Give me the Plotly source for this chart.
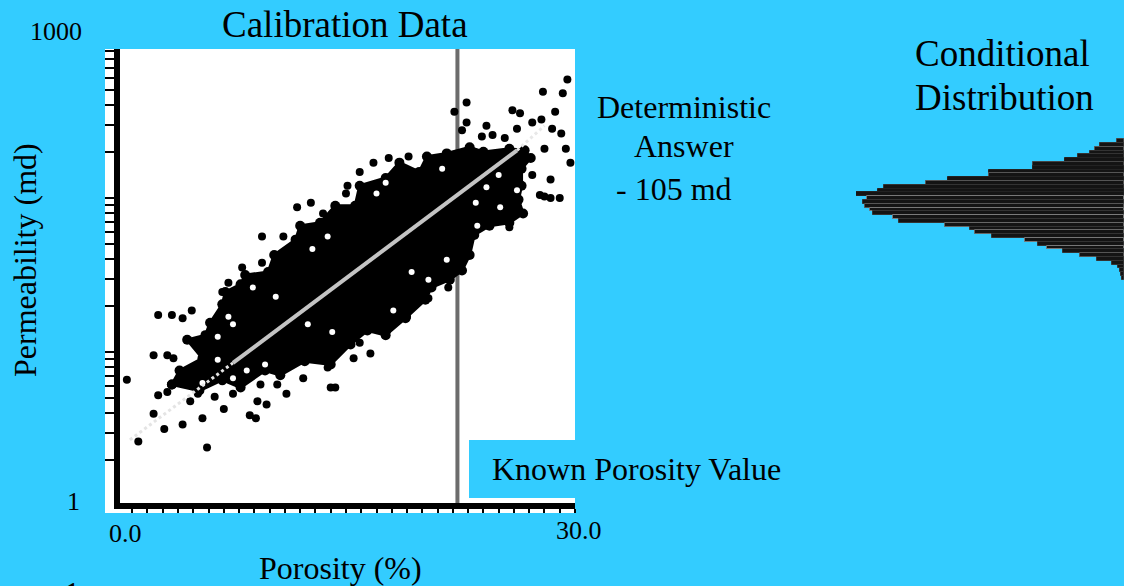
import plotly.graph_objects as go

# ---- Data ----
# Cloud outline of dense calibration data: porosity %, log10(permeability md)
cloud_porosity = [3.6,4.1,5.6,4.6,5.8,6.1,6.9,7.1,8.1,8.4,9.9,10.3,11.7,12.0,13.3,14.3,15.6,15.9,17.6,18.5,19.8,20.3,21.6,23.1,24.0,25.7,26.7,27.1,26.5,26.5,26.3,26.6,25.7,24.4,23.4,23.1,22.6,21.8,20.6,20.2,18.9,17.6,16.4,15.3,14.0,12.3,10.7,9.7,8.1,6.9,5.4,3.6]
cloud_logk = [0.79,0.88,0.96,1.08,1.11,1.19,1.31,1.39,1.44,1.50,1.52,1.63,1.73,1.82,1.84,1.95,1.95,2.08,2.13,2.23,2.17,2.27,2.29,2.33,2.30,2.32,2.31,2.26,2.19,2.08,1.99,1.90,1.84,1.82,1.76,1.63,1.53,1.47,1.42,1.34,1.22,1.11,1.14,1.05,0.92,0.94,0.85,0.88,0.77,0.82,0.75,0.79]

# Separate calibration samples outside the dense cloud
point_porosity = [29.5,27.9,29.2,22.9,22.1,25.9,26.4,28.7,22.9,22.6,27.2,27.8,24.2,26.2,29.1,28.5,23.9,24.6,25.4,28.0,29.4,29.7,28.4,27.2,27.7,29.0,28.4,28.0,25.7,16.8,17.8,19.1,15.9,15.1,15.0,11.8,12.7,13.5,9.5,10.9,9.5,8.2,7.3,6.9,2.7,3.6,4.3,4.9,2.4,3.3,3.7,0.65,2.7,3.3,2.4,3.1,4.3,5.6,1.4,5.9,7.0,8.7,9.1,9.2,9.8,6.4,4.8,5.3,7.6,6.9,9.4,11.1,10.5,12.2,14.3,14.0,15.5,16.6,15.9,13.8,21.7,17.7,20.4,19.0]
point_logk = [2.77,2.69,2.68,2.62,2.56,2.57,2.55,2.56,2.49,2.44,2.49,2.51,2.47,2.45,2.42,2.45,2.40,2.41,2.39,2.32,2.32,2.23,2.12,2.15,2.02,2.00,2.00,2.01,1.81,2.23,2.26,2.27,2.17,2.08,2.03,1.94,1.97,1.90,1.75,1.75,1.58,1.55,1.45,1.39,1.24,1.24,1.22,1.27,0.98,0.98,0.96,0.82,0.72,0.74,0.60,0.50,0.53,0.57,0.42,0.38,0.63,0.59,0.57,0.68,0.66,0.71,0.68,0.73,0.73,0.81,0.79,0.73,0.79,0.83,0.77,0.77,0.96,0.99,1.06,0.90,1.42,1.14,1.35,1.23]

# Small empty gaps inside the dense cloud
gap_porosity = [17.0,21.3,13.8,12.8,23.6,21.6,26.2,25.1,17.6,6.6,7.6,6.6,7.6,9.7,8.5,14.1,18.1,7.3,8.9,5.6,25.0,23.5,24.2,20.4,19.3,12.5,10.4]
gap_logk = [2.03,2.19,1.75,1.67,1.82,1.60,2.05,1.94,2.10,1.10,1.18,0.95,0.83,0.92,0.88,1.13,1.27,1.23,1.42,0.80,2.15,1.97,2.07,1.47,1.52,1.18,1.36]

# Regression line
trend_porosity = [7.6,26.2]
trend_logk = [0.93,2.31]
trend_low_porosity = [0.85,7.6]
trend_low_logk = [0.43,0.93]
trend_high_porosity = [26.2,28.0]
trend_high_logk = [2.31,2.47]

known_porosity = 22.3

# Conditional distribution histogram
bin_logk = [2.370,2.345,2.321,2.296,2.271,2.247,2.222,2.197,2.173,2.148,2.123,2.099,2.074,2.049,2.025,2.000,1.975,1.951,1.926,1.901,1.877,1.852,1.827,1.803,1.778,1.753,1.729,1.704,1.679,1.655,1.630,1.605,1.581,1.556,1.532,1.507,1.482]
bin_freq = [7,24,29,34,46,59,91,91,135,135,176,198,240,246,268,257,261,259,254,251,231,225,179,154,149,132,99,86,77,61,44,27,12,6,4,3,2]
bin_edge = ["#444444","#333333","#555555","#333333","#333333","#222222","#444444","#222222","#222222","#555555","#222222","#555555","#333333","#222222","#222222","#777777","#333333","#555555","#777777","#333333","#7a7a7a","#333333","#666666","#333333","#666666","#333333","#777777","#333333","#777777","#333333","#555555","#333333","#333333","#333333","#333333","#333333","#333333"]

y_ticks = [m * d for d in (1, 10, 100) for m in range(1, 10)]
x_ticks = list(range(1, 31))

BLUE = "#33CCFF"
FONT = "Liberation Serif"
W, H = 1124, 586
px = lambda v: v / W
py = lambda v: (H - v) / H
to_k = lambda seq: [10 ** v for v in seq]

fig = go.Figure()
fig.add_trace(go.Scatter(x=[known_porosity, known_porosity], y=[1, 1000], mode="lines",
                         line=dict(color="#6c6c6c", width=4), showlegend=False))
fig.add_trace(go.Scatter(x=cloud_porosity, y=to_k(cloud_logk), mode="lines+markers", fill="toself",
                         fillcolor="black", line=dict(color="black", width=3),
                         marker=dict(color="black", size=10), showlegend=False))
fig.add_trace(go.Scatter(x=point_porosity, y=to_k(point_logk), mode="markers",
                         marker=dict(color="black", size=8), showlegend=False))
fig.add_trace(go.Scatter(x=gap_porosity, y=to_k(gap_logk), mode="markers",
                         marker=dict(color="white", size=6), showlegend=False))
fig.add_trace(go.Scatter(x=trend_low_porosity, y=to_k(trend_low_logk), mode="lines",
                         line=dict(color="#e4e4e4", width=3, dash="dot"), showlegend=False))
fig.add_trace(go.Scatter(x=trend_high_porosity, y=to_k(trend_high_logk), mode="lines",
                         line=dict(color="#e8e8e8", width=3, dash="dot"), showlegend=False))
fig.add_trace(go.Scatter(x=trend_porosity, y=to_k(trend_logk), mode="lines",
                         line=dict(color="#c4c4c4", width=4), showlegend=False))

fig.add_trace(go.Bar(x=bin_freq, y=bin_logk, orientation="h", xaxis="x2", yaxis="y2",
                     width=0.0247, marker=dict(color="#141414", line=dict(color=bin_edge, width=1)),
                     showlegend=False))

def note(text, x, y, size, anchor="center"):
    return dict(text=text, x=px(x), y=py(y), xref="paper", yref="paper", xanchor=anchor, yanchor="middle",
                showarrow=False, align="left" if anchor == "left" else "center",
                font=dict(family=FONT, size=size, color="black"))

fig.update_layout(
    width=W, height=H, autosize=False, margin=dict(l=0, r=0, t=0, b=0),
    paper_bgcolor=BLUE, plot_bgcolor="rgba(0,0,0,0)", showlegend=False,
    xaxis=dict(domain=[px(120), px(575)], range=[0.2, 30], showgrid=False, zeroline=False,
               showline=True, linecolor="black", linewidth=6, ticks="outside", ticklen=4, tickwidth=2,
               tickcolor="black", tickvals=x_ticks, showticklabels=False, anchor="y"),
    yaxis=dict(domain=[py(503), py(49)], type="log", range=[0.02, 2.968], showgrid=False, zeroline=False,
               showline=True, linecolor="black", linewidth=6, ticks="outside", ticklen=9, tickwidth=2,
               tickcolor="black", tickvals=y_ticks, showticklabels=False, anchor="x"),
    xaxis2=dict(domain=[px(856), 1], range=[268, 0], visible=False, anchor="y2"),
    yaxis2=dict(domain=[py(503), py(49)], range=[0.02, 2.968], visible=False, anchor="x2"),
    bargap=0,
    shapes=[
        dict(type="rect", xref="paper", yref="paper", x0=px(105), x1=px(575), y0=py(513), y1=py(49),
             fillcolor="white", line_width=0, layer="below"),
        dict(type="rect", xref="paper", yref="paper", x0=px(469), x1=px(576), y0=py(498), y1=py(440),
             fillcolor=BLUE, line_width=0, layer="above"),
    ],
    annotations=[
        note("Calibration Data", 345, 25, 37),
        note("Conditional", 913, 53, 37, "left"),
        note("Distribution", 913, 97, 37, "left"),
        note("Deterministic", 684, 107, 32),
        note("Answer", 684, 146, 32),
        note("- 105 md", 674, 189, 32),
        note("Known Porosity Value", 490, 469, 32, "left"),
        note("Porosity (%)", 340, 568, 32),
        note("1000", 56, 31, 26),
        note("1", 73, 501, 26),
        note("0.0", 125, 533, 26),
        note("30.0", 579, 530, 26),
        note("1", 72, 595, 36),
        dict(text="Permeability (md)", x=px(25), y=py(260), xref="paper", yref="paper", textangle=-90,
             xanchor="center", yanchor="middle", showarrow=False,
             font=dict(family=FONT, size=32, color="black")),
    ],
)

fig.write_html("out.html", config=dict(displayModeBar=False),
               post_script="document.body.style.margin='0';document.body.style.overflow='hidden';")
